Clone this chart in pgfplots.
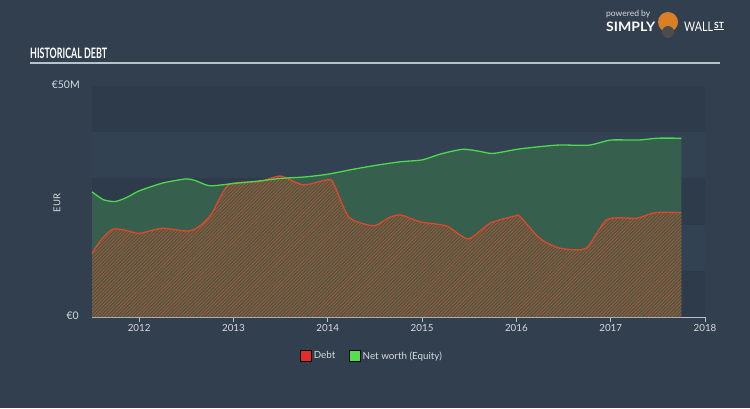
\documentclass[border=0pt]{standalone}
\usepackage{fontspec}
\setmainfont{Lato}
\usepackage{pgfplots}
\pgfplotsset{compat=1.18}
\usetikzlibrary{patterns.meta}
\definecolor{bgc}{HTML}{323F4E}
\definecolor{banddark}{HTML}{2E3B4A}
\definecolor{bandlight}{HTML}{334252}
\definecolor{eqfill}{HTML}{365F4E}
\definecolor{eqline}{HTML}{4CD94C}
\definecolor{debtline}{HTML}{E0472B}
\definecolor{hatch}{HTML}{B8502E}
\definecolor{txt}{HTML}{D5DBE1}
\definecolor{axl}{HTML}{B8C2CC}
\definecolor{legred}{HTML}{E52A2A}
\definecolor{leggreen}{HTML}{52E052}
\begin{document}
\begin{tikzpicture}[x=1pt,y=1pt]
\fill[bgc] (0,0) rectangle (750,408);
% title
\node[anchor=west,inner sep=0,text=white] at (30,355) {\resizebox{77pt}{10.5pt}{\bfseries\fontsize{12}{12}\selectfont HISTORICAL DEBT}};
\draw[color=axl,line width=1.5pt] (30,345) -- (720,345);
% logo
\node[anchor=west,inner sep=0,text=txt] at (606,394) {\fontsize{8.5}{9}\selectfont powered by};
\node[anchor=west,inner sep=0,text=white] at (606,381) {\resizebox{49pt}{9.5pt}{\bfseries SIMPLY}};
\fill[color=brown!60!orange] (668,386) circle (10);
\fill[color=black!70] (668,376) circle (6);
\node[anchor=west,inner sep=0,text=white] at (684,381) {\resizebox{29pt}{9.5pt}{WALL}};
\node[anchor=west,inner sep=0,text=white] at (714,382) {\fontsize{8.5}{9}\selectfont\bfseries\underline{ST}};
% EUR label
\node[rotate=90,text=txt,inner sep=0] at (57,205) {\fontsize{9.5}{10}\selectfont EUR};
\begin{axis}[
  at={(92pt,91pt)}, anchor=south west,
  scale only axis, width=613pt, height=231pt,
  xmin=2011.5, xmax=2018, ymin=0, ymax=50,
  axis line style={draw=none},
  axis x line*=bottom,
  x axis line style={draw=axl,line width=0.8pt},
  hide y axis,
  xtick={2012,2013,2014,2015,2016,2017,2018},
  xticklabels={2012,2013,2014,2015,2016,2017,2018},
  xtick style={draw=axl,line width=0.8pt},
  xtick align=outside,
  major tick length=5pt,
  x tick label style={text=txt,font=\fontsize{9.8}{11}\selectfont,yshift=1pt},
  clip=false,
  legend style={at={(0.457,-0.169)},anchor=center,draw=none,fill=none,
    text=txt,font=\fontsize{9.8}{11}\selectfont,legend columns=2,
    /tikz/every even column/.append style={column sep=12pt}},
  legend image code/.code={\fill[#1] (-1pt,-5.5pt) rectangle (10pt,5.5pt);},
]
% bands
\fill[banddark] (axis cs:2011.5,40) rectangle (axis cs:2018,50);
\fill[bandlight] (axis cs:2011.5,30) rectangle (axis cs:2018,40);
\fill[banddark] (axis cs:2011.5,20) rectangle (axis cs:2018,30);
\fill[bandlight] (axis cs:2011.5,10) rectangle (axis cs:2018,20);
\fill[banddark] (axis cs:2011.5,0) rectangle (axis cs:2018,10);
\node[anchor=east,text=txt,inner sep=0] at (axis cs:2011.5,50) [xshift=-12pt,yshift=1pt] {\fontsize{10.5}{11}\selectfont €50M};
\node[anchor=east,text=txt,inner sep=0] at (axis cs:2011.5,0) [xshift=-13pt,yshift=1pt] {\fontsize{10.5}{11}\selectfont €0};
\addplot[forget plot,draw=none,fill=eqfill,smooth,tension=0.4] coordinates {
(2011.5,27.1)(2011.62,25.4)(2011.75,25.0)(2011.88,26.0)(2012,27.3)(2012.25,29.0)
(2012.5,29.9)(2012.6,29.5)(2012.75,28.4)(2013,28.9)(2013.25,29.4)(2013.5,30.0)
(2013.75,30.3)(2014,30.9)(2014.25,31.9)(2014.5,32.8)(2014.77,33.6)(2015,34.0)
(2015.2,35.3)(2015.43,36.3)(2015.6,35.9)(2015.75,35.4)(2016.04,36.4)(2016.43,37.2)
(2016.77,37.2)(2017,38.3)(2017.29,38.3)(2017.5,38.7)(2017.75,38.7)} \closedcycle;
\addplot[forget plot,draw=none,pattern={Lines[angle=45,distance=2.4pt,line width=0.9pt]},pattern color=hatch,smooth,tension=0.4] coordinates {
(2011.5,13.8)(2011.6,16.8)(2011.72,19.0)(2011.85,18.8)(2012,18.1)(2012.24,19.2)
(2012.52,18.6)(2012.65,19.8)(2012.77,22.4)(2012.95,28.6)(2013.28,29.3)(2013.5,30.5)
(2013.74,28.6)(2014,29.7)(2014.06,29.0)(2014.22,21.7)(2014.43,19.9)(2014.52,19.9)
(2014.65,21.5)(2014.77,22.1)(2014.98,20.6)(2015.26,19.7)(2015.49,16.9)(2015.72,20.3)
(2015.99,21.9)(2016.04,21.7)(2016.25,17.0)(2016.46,14.9)(2016.74,14.9)(2016.96,21.1)
(2017.28,21.4)(2017.47,22.6)(2017.75,22.6)} \closedcycle;
\addplot[forget plot,color=debtline,line width=1.3pt,smooth,tension=0.4] coordinates {
(2011.5,13.8)(2011.6,16.8)(2011.72,19.0)(2011.85,18.8)(2012,18.1)(2012.24,19.2)
(2012.52,18.6)(2012.65,19.8)(2012.77,22.4)(2012.95,28.6)(2013.28,29.3)(2013.5,30.5)
(2013.74,28.6)(2014,29.7)(2014.06,29.0)(2014.22,21.7)(2014.43,19.9)(2014.52,19.9)
(2014.65,21.5)(2014.77,22.1)(2014.98,20.6)(2015.26,19.7)(2015.49,16.9)(2015.72,20.3)
(2015.99,21.9)(2016.04,21.7)(2016.25,17.0)(2016.46,14.9)(2016.74,14.9)(2016.96,21.1)
(2017.28,21.4)(2017.47,22.6)(2017.75,22.6)};
\addplot[forget plot,color=eqline,line width=1.3pt,smooth,tension=0.4] coordinates {
(2011.5,27.1)(2011.62,25.4)(2011.75,25.0)(2011.88,26.0)(2012,27.3)(2012.25,29.0)
(2012.5,29.9)(2012.6,29.5)(2012.75,28.4)(2013,28.9)(2013.25,29.4)(2013.5,30.0)
(2013.75,30.3)(2014,30.9)(2014.25,31.9)(2014.5,32.8)(2014.77,33.6)(2015,34.0)
(2015.2,35.3)(2015.43,36.3)(2015.6,35.9)(2015.75,35.4)(2016.04,36.4)(2016.43,37.2)
(2016.77,37.2)(2017,38.3)(2017.29,38.3)(2017.5,38.7)(2017.75,38.7)};
\addlegendimage{fill=legred}
\addlegendentry{Debt}
\addlegendimage{fill=leggreen}
\addlegendentry{Net worth (Equity)}
\end{axis}
\end{tikzpicture}
\end{document}
